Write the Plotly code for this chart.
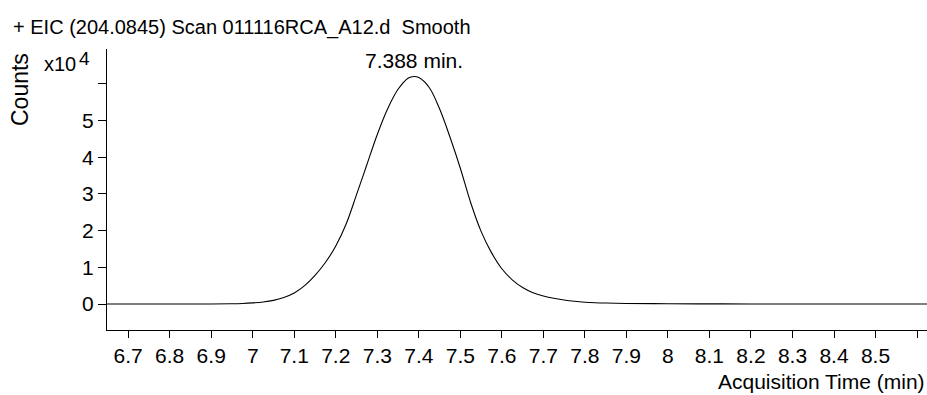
import plotly.graph_objects as go

# Retention time (min) and intensity (counts)
time_min = [6.649, 6.900, 6.950, 6.975, 7.000, 7.025, 7.050, 7.075, 7.100, 7.125,
            7.150, 7.175, 7.200, 7.225, 7.250, 7.275, 7.300, 7.325, 7.350, 7.375,
            7.388, 7.400, 7.425, 7.450, 7.475, 7.500, 7.525, 7.550, 7.575, 7.600,
            7.625, 7.650, 7.675, 7.700, 7.725, 7.750, 7.775, 7.800, 7.825, 7.850,
            7.900, 8.000, 8.100, 8.200, 8.624]
counts = [0, 0, 60, 140, 300, 550, 1000, 1800, 3000, 5000,
          7800, 11300, 15800, 21800, 29800, 38000, 46200, 53200, 58500, 61600,
          62000, 61700, 59000, 53200, 45500, 37000, 27600, 19800, 14000, 9600,
          6600, 4500, 3100, 2200, 1550, 1100, 750, 500, 350, 260,
          160, 80, 40, 10, 0]

x_ticks = [6.7, 6.8, 6.9, 7.0, 7.1, 7.2, 7.3, 7.4, 7.5, 7.6, 7.7, 7.8, 7.9, 8.0,
           8.1, 8.2, 8.3, 8.4, 8.5, 8.6]
x_labels = ["6.7", "6.8", "6.9", "7", "7.1", "7.2", "7.3", "7.4", "7.5", "7.6",
            "7.7", "7.8", "7.9", "8", "8.1", "8.2", "8.3", "8.4", "8.5", ""]
y_ticks = [0, 10000, 20000, 30000, 40000, 50000, 60000, 70000]
y_labels = ["0", "1", "2", "3", "4", "5", "", ""]

peak_time = 7.388
peak_label = "7.388 min."
title_text = "+ EIC (204.0845) Scan 011116RCA_A12.d  Smooth"

W, H = 927, 395
ML, MR, MT, MB = 107, 0, 49, 65
FONT = "Liberation Sans, Arial, sans-serif"
FS = 21

def px(xp):
    return (xp - ML) / (W - ML - MR)

def py(yp):
    return (H - MB - yp) / (H - MT - MB)

fig = go.Figure()
fig.add_trace(go.Scatter(x=time_min, y=counts, mode="lines",
                         line=dict(color="black", width=1.1, shape="spline", smoothing=1.0),
                         hoverinfo="x+y", showlegend=False))

fig.update_layout(
    width=W, height=H,
    margin=dict(l=ML, r=MR, t=MT, b=MB, pad=0),
    paper_bgcolor="white", plot_bgcolor="white",
    font=dict(family=FONT, size=FS, color="black"),
    xaxis=dict(range=[6.649, 8.624], showgrid=False, zeroline=False,
               showline=True, linecolor="black", linewidth=1,
               ticks="outside", ticklen=7, tickcolor="black", tickwidth=1,
               tickvals=x_ticks, ticktext=x_labels,
               tickfont=dict(family=FONT, size=FS, color="black")),
    yaxis=dict(range=[-7080, 69480], showgrid=False, zeroline=False,
               showline=True, linecolor="black", linewidth=1,
               ticks="outside", ticklen=8, tickcolor="black", tickwidth=1,
               tickvals=y_ticks, ticktext=y_labels,
               tickfont=dict(family=FONT, size=FS, color="black")),
    annotations=[
        dict(text=title_text, xref="paper", yref="paper", x=px(11), y=py(27),
             xanchor="left", yanchor="middle", showarrow=False,
             font=dict(family=FONT, size=20, color="black")),
        dict(text="Counts", xref="paper", yref="paper", x=px(20), y=py(90),
             xanchor="center", yanchor="middle", showarrow=False, textangle=-90,
             font=dict(family=FONT, size=23, color="black")),
        dict(text="x10", xref="paper", yref="paper", x=px(42), y=py(64),
             xanchor="left", yanchor="middle", showarrow=False,
             font=dict(family=FONT, size=20, color="black")),
        dict(text="4", xref="paper", yref="paper", x=px(77), y=py(58),
             xanchor="left", yanchor="middle", showarrow=False,
             font=dict(family=FONT, size=19, color="black")),
        dict(text=peak_label, x=peak_time, y=max(counts), xref="x", yref="y",
             xanchor="center", yanchor="bottom", showarrow=False, yshift=2,
             font=dict(family=FONT, size=FS, color="black")),
        dict(text="Acquisition Time (min)", xref="paper", yref="paper", x=px(925), y=py(381),
             xanchor="right", yanchor="middle", showarrow=False,
             borderpad=0, borderwidth=0,
             font=dict(family=FONT, size=FS, color="black")),
    ],
)

fig.write_html("out.html")
